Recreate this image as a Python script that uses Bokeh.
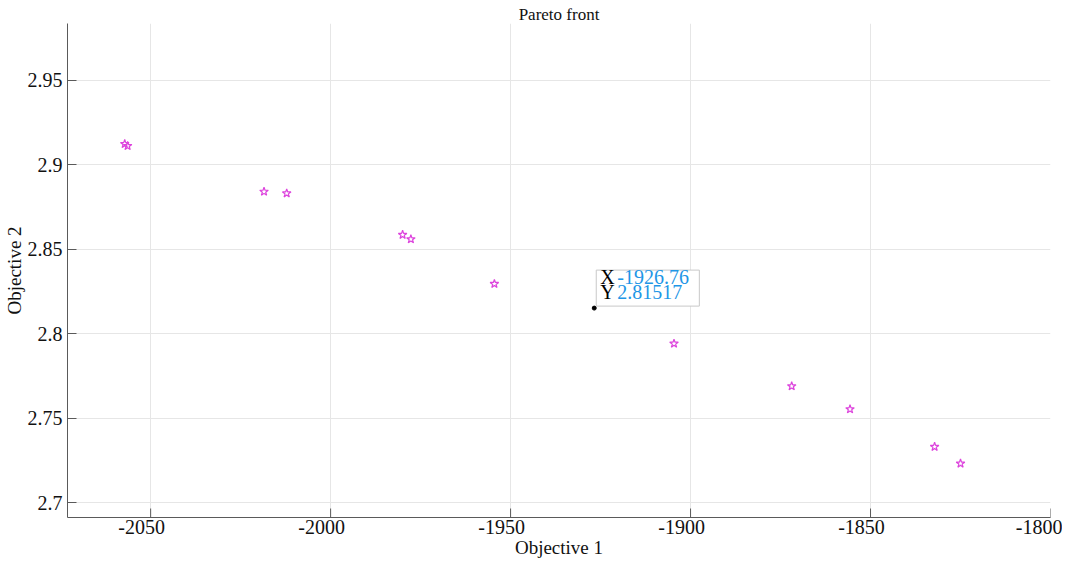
import math
from bokeh.plotting import figure
from bokeh.models import Label, FixedTicker, Range1d, LinearAxis
from bokeh.embed import file_html
from bokeh.resources import INLINE

# Pareto front points (Objective 1, Objective 2)
obj1 = [-2057.2, -2056.4, -2018.5, -2012.2, -1980.0, -1977.7, -1954.5,
        -1904.6, -1871.9, -1855.7, -1832.2, -1825.0]
obj2 = [2.9122, 2.9110, 2.8840, 2.8830, 2.8585, 2.8559, 2.8295,
        2.7942, 2.7690, 2.7554, 2.7332, 2.7233]

# datatip
tip_x = -1926.76
tip_y = 2.81517

x_ticks = [-2050, -2000, -1950, -1900, -1850, -1800]
x_tick_labels = ["-2050", "-2000", "-1950", "-1900", "-1850", "-1800"]
y_ticks = [2.7, 2.75, 2.8, 2.85, 2.9, 2.95]
y_tick_labels = ["2.7", "2.75", "2.8", "2.85", "2.9", "2.95"]

x_lo, x_hi = -2073.1, -1800
y_lo, y_hi = 2.6914, 2.9834
label_shift = 2.5  # MATLAB draws x tick labels slightly left of their ticks

SERIF = "Liberation Serif"
AX = "#5a5a5a"
TXT = "#111111"

p = figure(frame_width=983, frame_height=494, output_backend="svg", toolbar_location=None,
           x_range=Range1d(x_lo, x_hi), y_range=Range1d(y_lo, y_hi),
           min_border_left=61, min_border_right=12, min_border_top=23,
           min_border_bottom=40)
p.outline_line_color = None
p.background_fill_color = "white"

# y axis: line + inward ticks + labels
ya = p.yaxis[0]
ya.axis_line_color = AX
ya.major_tick_line_color = AX
ya.major_tick_in = 9
ya.major_tick_out = 0
ya.minor_tick_line_color = None
ya.ticker = FixedTicker(ticks=y_ticks)
ya.major_label_overrides = dict(zip(y_ticks, y_tick_labels))
ya.major_label_text_font = SERIF
ya.major_label_text_font_size = "20px"
ya.major_label_text_color = TXT
ya.major_label_standoff = 5
ya.axis_label = "Objective 2"
ya.axis_label_standoff = 0
ya.axis_label_text_font = SERIF
ya.axis_label_text_font_size = "19px"
ya.axis_label_text_font_style = "normal"
ya.axis_label_text_color = TXT

# default x axis hidden; a label axis on a range shifted by a few pixels
p.xaxis[0].visible = False
p.extra_x_ranges = {"lab": Range1d(x_lo + label_shift, x_hi + label_shift)}
lab_ax = LinearAxis(x_range_name="lab", ticker=FixedTicker(ticks=x_ticks),
                    axis_label="Objective 1")
lab_ax.major_label_overrides = dict(zip(x_ticks, x_tick_labels))
lab_ax.axis_line_color = AX
lab_ax.major_tick_line_color = None
lab_ax.minor_tick_line_color = None
lab_ax.major_tick_in = 0
lab_ax.major_tick_out = 0
lab_ax.major_label_standoff = 2
lab_ax.major_label_text_font = SERIF
lab_ax.major_label_text_font_size = "20px"
lab_ax.major_label_text_color = TXT
lab_ax.axis_label_standoff = 0
lab_ax.axis_label_text_font = SERIF
lab_ax.axis_label_text_font_size = "19px"
lab_ax.axis_label_text_font_style = "normal"
lab_ax.axis_label_text_color = TXT
p.add_layout(lab_ax, "below")

p.xgrid.grid_line_color = "#e6e6e6"
p.ygrid.grid_line_color = "#e6e6e6"
p.xgrid.ticker = FixedTicker(ticks=x_ticks)
p.ygrid.ticker = FixedTicker(ticks=y_ticks)

# inward x ticks at the true tick positions (lower half clipped by the frame)
p.scatter(x_ticks, [y_lo] * len(x_ticks), marker="dash", angle=math.pi / 2,
          size=18, line_color=AX, line_width=1)

# title
p.title.text = "Pareto front"
p.title.align = "center"
p.title.text_font = SERIF
p.title.text_font_size = "17px"
p.title.text_font_style = "normal"
p.title.text_color = TXT
p.title.standoff = 0
p.title.offset = 0

p.scatter(obj1, obj2, marker="star", size=9, fill_color=None,
          line_color="#dd44dd", line_width=1.2)

# datatip marker
p.scatter([tip_x], [tip_y], marker="circle", size=4, color="black")

box = Label(x=tip_x, y=tip_y, x_offset=2, y_offset=2,
            text="X -1926.76", text_font=SERIF,
            text_font_size="20px", text_color="white",
            border_line_color="#c8c8c8", border_line_width=1,
            background_fill_color="white", background_fill_alpha=1.0,
            padding=(6, 7))
p.add_layout(box)
for txt, yo in (("X", 31), ("Y", 16)):
    p.add_layout(Label(x=tip_x, y=tip_y, x_offset=6, y_offset=yo, text=txt,
                       text_font=SERIF, text_font_size="20px", text_color="black",
                       text_baseline="alphabetic"))
for txt, yo in (("%.2f" % tip_x, 31), ("%.5f" % tip_y, 16)):
    p.add_layout(Label(x=tip_x, y=tip_y, x_offset=23, y_offset=yo, text=txt,
                       text_font=SERIF, text_font_size="20px", text_color="#1e96e6",
                       text_baseline="alphabetic"))

open("out.html", "w").write(file_html(p, INLINE))
